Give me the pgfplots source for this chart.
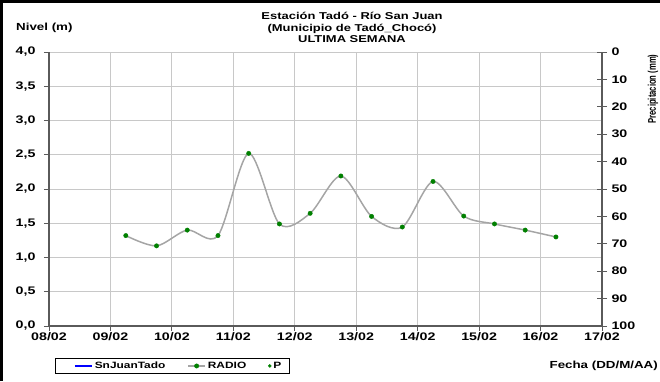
\documentclass[border=0pt]{standalone}
\usepackage{fontspec}
\setmainfont{Liberation Sans}[FakeStretch=1.3]
\newfontfamily\rotfont{Liberation Sans}
\usepackage{graphicx}
\usepackage{pgfplots}
\pgfplotsset{compat=1.18}

\definecolor{gridgray}{RGB}{200,200,200}
\definecolor{axgray}{RGB}{90,90,90}
\definecolor{curvegray}{RGB}{165,165,165}
\definecolor{ptgreen}{RGB}{0,128,0}

\begin{document}
\begin{tikzpicture}[x=1bp,y=1bp]
\path[use as bounding box] (-49,-55) rectangle (611,326);
\begin{axis}[
  at={(0,0)}, anchor=south west, scale only axis,
  width=553bp, height=274bp,
  xmin=0, xmax=9, ymin=0, ymax=4,
  xtick={0,1,...,9},
  xticklabels={08/02,09/02,10/02,11/02,12/02,13/02,14/02,15/02,16/02,17/02},
  ytick={0,0.5,1,1.5,2,2.5,3,3.5,4},
  yticklabels={{0,0},{0,5},{1,0},{1,5},{2,0},{2,5},{3,0},{3,5},{4,0}},
  grid=major, major grid style={gridgray, line width=0.9bp},
  axis x line*=bottom, axis y line*=left,
  axis line style={axgray, line width=1.1bp},
  tick style={axgray, line width=0.9bp},
  tick align=outside, major tick length=5bp,
  ticklabel style={font=\fontsize{11}{12}\selectfont\bfseries},
  xticklabel style={yshift=1.5bp},
  yticklabel style={xshift=-5bp},
  legend style={at={(axis description cs:0.011,-0.1168)}, anchor=north west,
    legend columns=3, draw=black, line width=0.8bp,
    font=\fontsize{9.2}{10}\selectfont\bfseries,
    inner xsep=6bp, inner ysep=1.5bp,
    /tikz/every even column/.append style={column sep=20bp}},
]
\addlegendimage{legend image code/.code={\path (-13bp,0); \draw[blue,line width=1.8bp] (0,0) -- (17bp,0);}}
\addlegendentry{SnJuanTado}
\addplot[curvegray, line width=1.5bp, smooth, mark=*, mark size=2.2bp,
  mark options={draw=ptgreen, fill=ptgreen, line width=0.4bp}] coordinates {
  (1.25,1.32) (1.75,1.17) (2.25,1.40) (2.75,1.32) (3.25,2.52)
  (3.75,1.49) (4.25,1.645) (4.75,2.19) (5.25,1.60) (5.75,1.445)
  (6.25,2.11) (6.75,1.605) (7.25,1.49) (7.75,1.40) (8.25,1.30)
};
\addlegendentry{RADIO}
\addlegendimage{only marks, mark=*, mark size=1.5bp, draw=ptgreen, fill=ptgreen, line width=0.4bp}
\addlegendentry{P}
\end{axis}
\begin{axis}[
  at={(0,0)}, anchor=south west, scale only axis,
  width=553bp, height=274bp,
  xmin=0, xmax=9, ymin=0, ymax=100, y dir=reverse,
  axis y line*=right, axis x line=none,
  ytick={0,10,20,30,40,50,60,70,80,90,100},
  yticklabels={0,10,20,30,40,50,60,70,80,90,100},
  axis line style={axgray, line width=1.1bp},
  tick style={axgray, line width=0.9bp},
  tick align=center, major tick length=10bp,
  yticklabel style={font=\fontsize{11}{12}\selectfont\bfseries, xshift=1bp},
]
\addplot[draw=none, forget plot] coordinates {(0,0)};
\end{axis}
\draw[black, line width=3bp] (-47.5,-55) -- (-47.5,324.5) -- (611,324.5);
\node[align=center, inner sep=0, font=\fontsize{10}{11.8}\selectfont\bfseries] at (303,298.5)
  {Estación Tadó - Río San Juan\\(Municipio de Tadó\textunderscore Chocó)\\ULTIMA SEMANA};
\node[anchor=west, inner sep=0, font=\fontsize{10.3}{12}\selectfont\bfseries] at (-33,298.5) {Nivel (m)};
\node[anchor=east, inner sep=0, font=\fontsize{10.3}{12}\selectfont\bfseries] at (609,-40) {Fecha (DD/M/AA)};
\node[rotate=90, inner sep=0] at (604,237)
  {\scalebox{1}[1.45]{\rotfont\fontsize{7.7}{10}\selectfont\bfseries Precipitacion (mm)}};
\end{tikzpicture}
\end{document}
